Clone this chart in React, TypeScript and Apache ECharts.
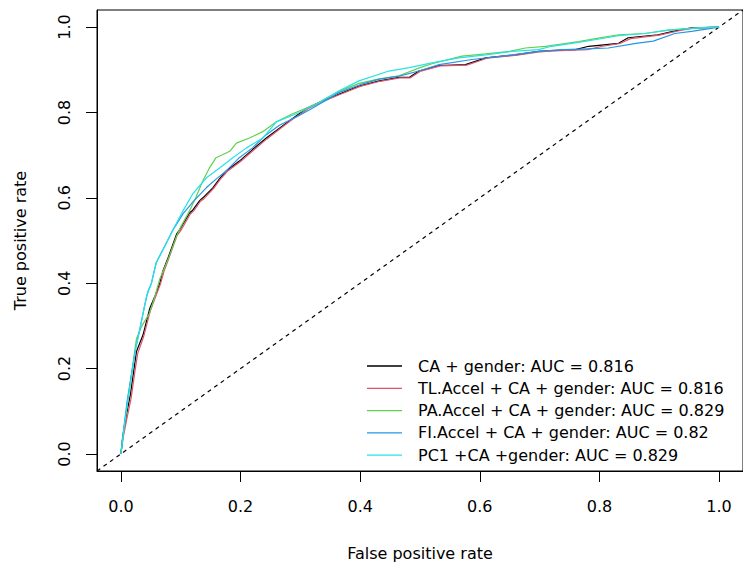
import React, { useEffect, useRef } from "react";
import * as echarts from "echarts";

const tickValues = [0, 0.2, 0.4, 0.6, 0.8, 1.0];

const seriesNames = [
  "CA + gender: AUC = 0.816",
  "TL.Accel + CA + gender: AUC = 0.816",
  "PA.Accel + CA + gender: AUC = 0.829",
  "FI.Accel + CA + gender: AUC = 0.82",
  "PC1 +CA +gender: AUC = 0.829",
];

const seriesColors = ["#000000", "#DF536B", "#61D04F", "#2297E6", "#28E2E5"];

const rocCA = [
  [0, 0], [0.003, 0.04], [0.0095, 0.094], [0.016, 0.14], [0.022, 0.2], [0.026, 0.24],
  [0.037, 0.279], [0.048, 0.34], [0.057, 0.37], [0.065, 0.4], [0.0705, 0.43], [0.079, 0.46],
  [0.093, 0.515], [0.098, 0.525], [0.115, 0.565], [0.12, 0.571], [0.132, 0.594], [0.137, 0.6],
  [0.154, 0.624], [0.165, 0.645], [0.176, 0.663], [0.198, 0.686], [0.22, 0.713], [0.243, 0.74],
  [0.265, 0.763], [0.287, 0.786], [0.298, 0.797], [0.31, 0.809], [0.332, 0.824], [0.365, 0.843],
  [0.398, 0.862], [0.432, 0.874], [0.465, 0.882], [0.482, 0.882], [0.498, 0.897], [0.532, 0.91],
  [0.576, 0.912], [0.61, 0.928], [0.66, 0.935], [0.698, 0.943], [0.72, 0.945], [0.76, 0.947],
  [0.782, 0.955], [0.832, 0.962], [0.848, 0.975], [0.898, 0.982], [0.932, 0.993], [0.954, 0.998],
  [1, 1],
];

const rocTL = [
  [0, 0], [0.004, 0.04], [0.011, 0.09], [0.017, 0.13], [0.023, 0.19], [0.028, 0.235],
  [0.038, 0.275], [0.049, 0.335], [0.058, 0.368], [0.066, 0.398], [0.072, 0.428], [0.08, 0.458],
  [0.094, 0.512], [0.1, 0.523], [0.116, 0.562], [0.122, 0.57], [0.133, 0.592], [0.139, 0.598],
  [0.155, 0.622], [0.166, 0.643], [0.178, 0.662], [0.2, 0.685], [0.222, 0.712], [0.244, 0.738],
  [0.266, 0.762], [0.288, 0.785], [0.3, 0.796], [0.312, 0.808], [0.333, 0.823], [0.366, 0.842],
  [0.4, 0.861], [0.433, 0.873], [0.466, 0.881], [0.484, 0.881], [0.5, 0.896], [0.534, 0.909],
  [0.578, 0.911], [0.612, 0.927], [0.662, 0.934], [0.7, 0.942], [0.722, 0.944], [0.78, 0.947],
  [0.805, 0.955], [0.835, 0.962], [0.852, 0.973], [0.9, 0.981], [0.935, 0.992], [0.956, 0.997],
  [1, 1],
];

const rocPA = [
  [0, 0], [0.004, 0.05], [0.01, 0.11], [0.018, 0.19], [0.026, 0.27], [0.035, 0.3],
  [0.048, 0.33], [0.057, 0.37], [0.065, 0.41], [0.08, 0.46], [0.093, 0.51], [0.1, 0.532],
  [0.115, 0.57], [0.125, 0.6], [0.137, 0.64], [0.148, 0.67], [0.159, 0.694], [0.182, 0.709],
  [0.193, 0.728], [0.215, 0.74], [0.237, 0.755], [0.26, 0.778], [0.287, 0.797], [0.31, 0.81],
  [0.326, 0.82], [0.365, 0.85], [0.398, 0.868], [0.43, 0.878], [0.465, 0.886], [0.5, 0.905],
  [0.52, 0.914], [0.57, 0.932], [0.61, 0.937], [0.65, 0.943], [0.676, 0.951], [0.71, 0.955],
  [0.765, 0.966], [0.798, 0.974], [0.832, 0.982], [0.876, 0.985], [0.915, 0.993], [0.965, 0.998],
  [1, 1],
];

const rocFI = [
  [0, 0], [0.004, 0.05], [0.01, 0.12], [0.018, 0.19], [0.025, 0.25], [0.032, 0.295],
  [0.04, 0.35], [0.045, 0.38], [0.051, 0.4], [0.059, 0.448], [0.073, 0.486], [0.087, 0.525],
  [0.104, 0.563], [0.12, 0.59], [0.143, 0.624], [0.16, 0.645], [0.176, 0.663], [0.198, 0.694],
  [0.22, 0.717], [0.243, 0.748], [0.265, 0.77], [0.298, 0.793], [0.32, 0.81], [0.365, 0.847],
  [0.4, 0.865], [0.432, 0.878], [0.465, 0.885], [0.498, 0.897], [0.532, 0.912], [0.587, 0.924],
  [0.654, 0.935], [0.698, 0.943], [0.74, 0.947], [0.78, 0.949], [0.815, 0.951], [0.861, 0.962],
  [0.89, 0.967], [0.926, 0.985], [0.954, 0.99], [1, 1],
];

const rocPC1 = [
  [0, 0], [0.0055, 0.064], [0.012, 0.13], [0.018, 0.187], [0.025, 0.25], [0.032, 0.295],
  [0.043, 0.37], [0.051, 0.4], [0.059, 0.448], [0.073, 0.486], [0.087, 0.525], [0.104, 0.57],
  [0.12, 0.609], [0.143, 0.647], [0.165, 0.67], [0.187, 0.694], [0.21, 0.717], [0.237, 0.74],
  [0.26, 0.778], [0.298, 0.8], [0.33, 0.822], [0.365, 0.851], [0.398, 0.874], [0.448, 0.897],
  [0.482, 0.905], [0.52, 0.916], [0.565, 0.928], [0.61, 0.935], [0.654, 0.943], [0.698, 0.947],
  [0.72, 0.955], [0.765, 0.964], [0.8, 0.972], [0.832, 0.98], [0.876, 0.985], [0.915, 0.993],
  [0.965, 0.998], [1, 1],
];

const rocData = [rocCA, rocTL, rocPA, rocFI, rocPC1];
const diagonal = [[-0.04, -0.04], [1.04, 1.04]];

const FONT = "DejaVu Sans";

export default function App() {
  const ref = useRef<HTMLDivElement>(null);
  useEffect(() => {
    if (!ref.current) return;
    const chart = echarts.init(ref.current, null, { renderer: "svg" });
    const axisCommon = (name: string, isY: boolean) => ({
      type: "value",
      min: -0.04,
      max: 1.04,
      name,
      nameLocation: "middle",
      nameGap: isY ? 69 : 74,
      nameTextStyle: { fontSize: 16, color: "#000", fontFamily: FONT },
      axisLine: { show: true, onZero: false, lineStyle: { color: "#000", width: 1 } },
      axisTick: { show: true, length: 11, customValues: tickValues, lineStyle: { color: "#000", width: 1 } },
      axisLabel: {
        customValues: tickValues,
        formatter: (v: number) => v.toFixed(1),
        fontSize: 16,
        color: "#000",
        fontFamily: FONT,
        margin: isY ? 25 : 27,
        rotate: isY ? 90 : 0,
      },
      splitLine: { show: false },
    });
    chart.setOption({
      animation: false,
      textStyle: { fontFamily: FONT },
      grid: {
        left: 97,
        top: 10,
        width: 648,
        height: 468,
        show: true,
        borderColor: "#000",
        borderWidth: 1,
        backgroundColor: "transparent",
      },
      xAxis: axisCommon("False positive rate", false),
      yAxis: axisCommon("True positive rate", true),
      legend: {
        orient: "vertical",
        left: 362,
        top: 353,
        itemWidth: 35,
        itemHeight: 1.3,
        itemGap: 6.3,
        icon: "rect",
        selectedMode: false,
        data: seriesNames,
        textStyle: { fontSize: 16, color: "#000", fontFamily: FONT, lineHeight: 16, padding: [0, 0, 0, 11] },
      },
      series: [
        {
          type: "line",
          name: "diagonal",
          data: diagonal,
          symbol: "none",
          silent: true,
          lineStyle: { color: "#000", width: 1.2, type: [4, 4] },
        },
        ...rocData.map((d, i) => ({
          type: "line",
          name: seriesNames[i],
          data: d,
          symbol: "none",
          showSymbol: false,
          color: seriesColors[i],
          lineStyle: { color: seriesColors[i], width: 1.2 },
        })),
      ],
    });
    return () => chart.dispose();
  }, []);
  return (
    <div
      ref={ref}
      style={{ position: "absolute", left: 0, top: 0, width: 743, height: 566, background: "#fff" }}
    />
  );
}
